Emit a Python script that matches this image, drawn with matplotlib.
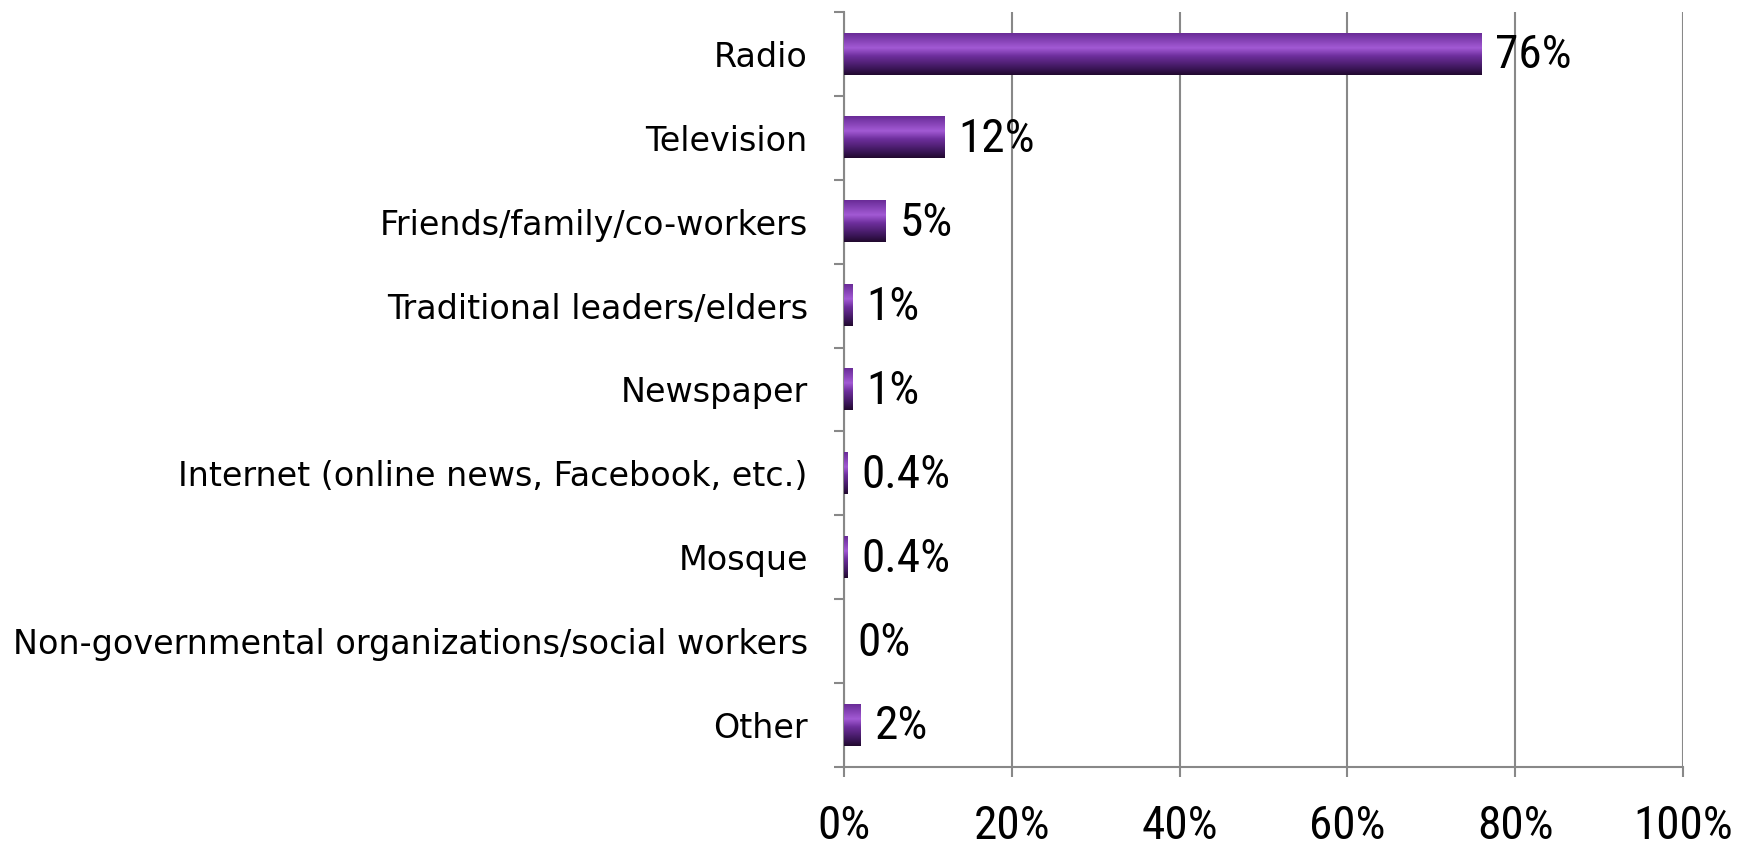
import numpy as np
import matplotlib
matplotlib.use('Agg')
import matplotlib.pyplot as plt
from matplotlib.colors import LinearSegmentedColormap

categories = ['Radio', 'Television', 'Friends/family/co-workers',
              'Traditional leaders/elders', 'Newspaper',
              'Internet (online news, Facebook, etc.)', 'Mosque',
              'Non-governmental organizations/social workers', 'Other']
values = [76, 12, 5, 1, 1, 0.4, 0.4, 0, 2]
value_labels = ['76%', '12%', '5%', '1%', '1%', '0.4%', '0.4%', '0%', '2%']
x_ticks = [0, 20, 40, 60, 80, 100]
x_ticklabels = ['0%', '20%', '40%', '60%', '80%', '100%']

narrow = ['Roboto Condensed', 'PT Sans Narrow', 'Archivo Narrow', 'DejaVu Sans']

# vertical shading of the bars, top -> bottom
grad = LinearSegmentedColormap.from_list(
    'bar', [(0.0, '#6a2c98'), (0.35, '#a25ad4'), (0.55, '#6d2e9c'),
            (0.85, '#3b1658'), (1.0, '#22092f')])
shade = grad(np.linspace(0, 1, 64))[:, None, :]

fig = plt.figure(figsize=(17.52, 8.46), dpi=100)
ax = fig.add_axes([0.4817, 0.0934, 0.9606 - 0.4817, 0.9858 - 0.0934])

y = np.arange(len(categories))
bars = ax.barh(y, values, height=0.49, color='none', edgecolor='none')
for b in bars:
    x0, y0, w, h = b.get_x(), b.get_y(), b.get_width(), b.get_height()
    if w > 0:
        ax.imshow(shade, extent=(x0, x0 + w, y0 + h, y0), aspect='auto',
                  interpolation='bilinear', zorder=3)

for yi, v, lab in zip(y, values, value_labels):
    ax.annotate(lab, (v, yi), xytext=(10, -1), textcoords='offset points',
                ha='left', va='center', fontsize=34, family=narrow,
                color='black', zorder=4)

ax.set_xlim(0, 100)
ax.set_ylim(len(categories) - 0.5, -0.5)

ax.set_xticks(x_ticks)
ax.set_xticklabels(x_ticklabels, fontsize=34, family=narrow)
ax.set_yticks(y)
ax.set_yticklabels(categories, fontsize=24, family='DejaVu Sans')
ax.set_yticks(np.arange(len(categories) + 1) - 0.5, minor=True)

ax.tick_params(axis='y', which='major', length=0, pad=26)
ax.tick_params(axis='y', which='minor', length=7, width=1.5, color='#888888')
ax.tick_params(axis='x', length=7, width=1.5, color='#888888', pad=20)

ax.grid(axis='x', color='#888888', linewidth=1.5, zorder=0)
ax.set_axisbelow(True)
for s in ['top', 'right']:
    ax.spines[s].set_visible(False)
for s in ['left', 'bottom']:
    ax.spines[s].set_color('#888888')
    ax.spines[s].set_linewidth(1.5)

plt.savefig('out.png', dpi=100)
